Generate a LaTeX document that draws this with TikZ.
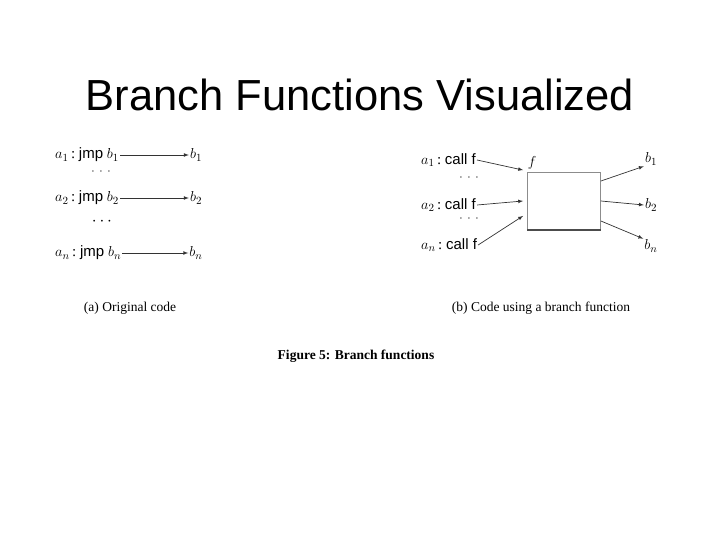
\documentclass[tikz,border=0pt]{standalone}
\usepackage{fontspec}
\setmainfont{Liberation Serif}
\newfontfamily\sans{Liberation Sans}
\begin{document}
\begin{tikzpicture}[x=1pt,y=-1pt,
 t/.style={font=\sans\fontsize{13}{15}\selectfont,inner sep=1pt},
 m/.style={font=\fontsize{15}{17}\selectfont,inner sep=1pt},
 ar/.style={-latex,line width=0.7pt,black!80},
 capt/.style={font=\fontsize{13.5}{16}\selectfont}]
\useasboundingbox (0,0) rectangle (720,540);
\node[font=\sans\fontsize{43.5}{48}\selectfont] (title) at (360,95) {Branch Functions Visualized};
% left
\node[m,anchor=west] (la1) at (54,155) {$a_1$\,:\ {\sans jmp}\ $b_1$};
\node[m] (lb1) at (196,155) {$b_1$};
\node[t] (ld1) at (101,172) {$\cdot\,\cdot\,\cdot$};
\node[m,anchor=west] (la2) at (54,198) {$a_2$\,:\ {\sans jmp}\ $b_2$};
\node[m] (lb2) at (196,198) {$b_2$};
\node[font=\fontsize{16}{18}\selectfont] (ld2) at (102,222) {$\cdots$};
\node[m,anchor=west] (lan) at (54,253) {$a_n$\,:\ {\sans jmp}\ $b_n$};
\node[m] (lbn) at (196,253) {$b_n$};
\draw[ar] (la1.east) -- (lb1.west);
\draw[ar] (la2.east) -- (lb2.west);
\draw[ar] (lan.east) -- (lbn.west);
\node[capt] (capa) at (130,308) {(a) Original code};
% right
\node[m,anchor=west] (ra1) at (420,160) {$a_1$\,:\ {\sans call f}};
\node[t] (rd1) at (469,178) {$\cdot\,\cdot\,\cdot$};
\node[m,anchor=west] (ra2) at (420,205) {$a_2$\,:\ {\sans call f}};
\node[t] (rd2) at (469,219) {$\cdot\,\cdot\,\cdot$};
\node[m,anchor=west] (ran) at (420,245) {$a_n$\,:\ {\sans call f}};
\node[draw=black!45,line width=0.8pt,minimum width=73pt,minimum height=57pt,inner sep=0pt] (f) at (564,201) {};
\draw[black!70,line width=1.6pt] (f.south west) -- (f.south east);
\node[m] (fl) at (532,163) {$f$};
\node[m] (rb1) at (651,159) {$b_1$};
\node[m] (rb2) at (651,205) {$b_2$};
\node[m] (rbn) at (651,246) {$b_n$};
\coordinate (in1) at ([shift={(-4,-2)}]f.north west);
\draw[ar] (ra1.east) -- (in1);
\draw[ar] (ra2.east) -- ([xshift=-4pt]f.west);
\draw[ar] (ran.east) -- ([shift={(-4,-14)}]f.south west);
\draw[ar] ([yshift=20pt]f.east) -- (rb1.south west);
\draw[ar] (f.east) -- (rb2.west);
\draw[ar] ([yshift=-20pt]f.east) -- (rbn.north west);
\node[capt] (capb) at (541,308) {(b) Code using a branch function};
\node[font=\bfseries\fontsize{13.5}{16}\selectfont] (fig) at (356,356) {Figure 5: Branch functions};
\end{tikzpicture}
\end{document}
